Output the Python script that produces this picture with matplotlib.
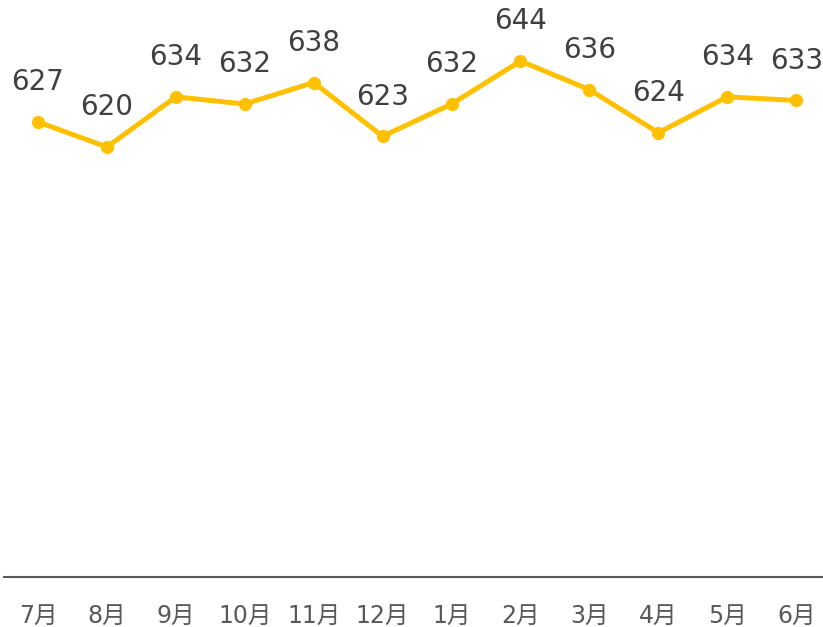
import matplotlib.pyplot as plt

months = ['7月', '8月', '9月', '10月', '11月', '12月', '1月', '2月', '3月', '4月', '5月', '6月']
values = [627, 620, 634, 632, 638, 623, 632, 644, 636, 624, 634, 633]

fig = plt.figure(figsize=(8.23, 6.27), dpi=100)
ax = fig.add_axes([0.0043, 0.0797, 1.005, 0.9144])

x = range(len(months))
ax.plot(x, values, color='#FFC000', linewidth=3.6, marker='o', markersize=8.5,
        solid_capstyle='round', clip_on=False)

# value labels above each point
for i, v in zip(x, values):
    ax.annotate(str(v), (i, v), xytext=(0, 28.5), textcoords='offset points',
                ha='center', va='center', fontsize=20, color='#404040',
                family='DejaVu Sans')

ax.set_xlim(-0.5, 11.5)
ax.set_ylim(500, 660)
ax.set_xticks(list(x))
ax.set_xticklabels(months, fontsize=17, color='#595959',
                   family=['DejaVu Sans', 'Noto Sans CJK JP'])
ax.tick_params(axis='x', length=0, pad=19.5)
ax.set_yticks([])

for s in ['top', 'right', 'left']:
    ax.spines[s].set_visible(False)
ax.spines['bottom'].set_color('#595959')
ax.spines['bottom'].set_linewidth(1.5)

fig.savefig('out.png', dpi=100)
